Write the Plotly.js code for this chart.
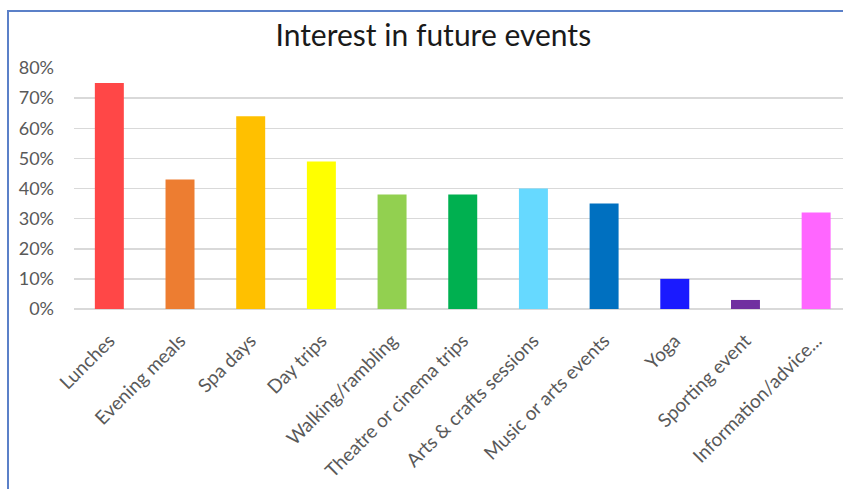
<!DOCTYPE html>
<html>
<head>
<meta charset="utf-8">
<script src="https://cdn.plot.ly/plotly-3.0.1.min.js"></script>
<style>
html,body{margin:0;padding:0;background:#fff;}
#wrap{position:relative;width:843px;height:489px;}
#chart{width:843px;height:489px;}
#frame{position:absolute;left:7px;top:10px;width:836px;height:479px;border-top:2px solid #5B80C8;border-left:2px solid #5B80C8;pointer-events:none;box-sizing:border-box;}
</style>
</head>
<body>
<div id="wrap"><div id="chart"></div><div id="frame"></div></div>
<script>
const categories = ["Lunches","Evening meals","Spa days","Day trips","Walking/rambling","Theatre or cinema trips","Arts & crafts sessions","Music or arts events","Yoga","Sporting event","Information/advice..."];
const values = [0.75,0.43,0.64,0.49,0.38,0.38,0.40,0.35,0.10,0.03,0.32];
const barColors = ["#FF4747","#ED7D31","#FFC000","#FFFF00","#92D050","#00B050","#66D9FF","#0070C0","#1A1AFF","#7030A0","#FF66FF"];
const yTicks = [0,0.1,0.2,0.3,0.4,0.5,0.6,0.7,0.8];

const trace = {
  type:'bar', x:categories, y:values,
  marker:{color:barColors, line:{width:0}},
  hoverinfo:'x+y'
};
const layout = {
  width:843, height:489,
  margin:{l:74, r:0, t:68, b:180, pad:0},
  paper_bgcolor:'#fff', plot_bgcolor:'#fff',
  bargap:0.59,
  showlegend:false,
  title:{text:'Interest in future events', font:{family:'Lato, "Open Sans", sans-serif', size:30, color:'#1a1a1a'},
         x:0.514, xanchor:'center', xref:'container', y:1-35/489, yanchor:'middle', yref:'container'},
  font:{family:'Lato, "Open Sans", sans-serif', color:'#595959'},
  xaxis:{type:'category', range:[-0.5,10.38], tickangle:-45, tickfont:{size:19, color:'#595959'},
         showgrid:false, showline:false, ticks:'', ticklen:0, ticklabelstandoff:16, automargin:false, fixedrange:true},
  yaxis:{range:[0,0.8], tickvals:yTicks, tickformat:'.0%', tickfont:{size:18, color:'#595959'},
         showgrid:true, gridcolor:'#D9D9D9', gridwidth:1.5, zeroline:true, zerolinecolor:'#D9D9D9', zerolinewidth:1.5,
         showline:false, ticks:'', ticklabelstandoff:19, automargin:false, fixedrange:true}
};
Plotly.newPlot('chart',[trace],layout,{displayModeBar:false, staticPlot:true});
</script>
</body>
</html>
